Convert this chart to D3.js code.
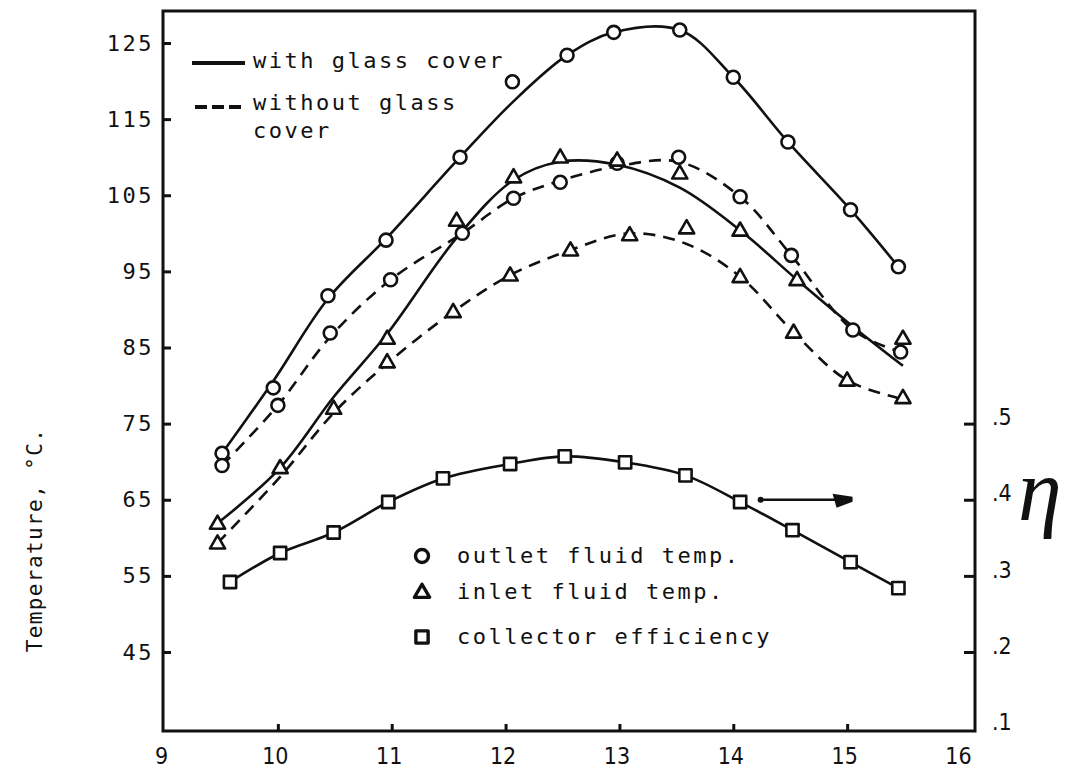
<!DOCTYPE html>
<html>
<head>
<meta charset="utf-8">
<script src="https://cdn.jsdelivr.net/npm/d3@7"></script>
<style>
  body { margin: 0; background: #fff; }
  svg { display: block; }
  .mono { font-family: "DejaVu Sans Mono", monospace; fill: #111; }
  .cond { font-family: "DejaVu Sans Condensed", "DejaVu Sans", sans-serif; fill: #111; }
</style>
</head>
<body>
<div id="wrapper"></div>
<script>
// tick labels
const xTicks = [9, 10, 11, 12, 13, 14, 15, 16]
const tempTicks = [45, 55, 65, 75, 85, 95, 105, 115, 125]
const effTicks = [0.1, 0.2, 0.3, 0.4, 0.5]

// outlet fluid temp, with glass cover (solid, circles)
const outletGlassHours = [9.51, 9.96, 10.44, 10.95, 11.60, 12.06, 12.54, 12.95, 13.53, 14.00, 14.48, 15.03, 15.45]
const outletGlassTemp  = [71.1, 79.7, 91.8, 99.1, 110.0, 119.9, 123.4, 126.4, 126.7, 120.5, 112.0, 103.1, 95.6]
const outletGlassCurve = [71.1, 80.6, 91.4, 99.3, 110.0, 117.2, 123.4, 126.4, 126.7, 120.5, 112.0, 103.1, 95.6]

// outlet fluid temp, without glass cover (dashed, circles)
const outletBareHours = [9.51, 10.00, 10.46, 10.99, 11.62, 12.07, 12.48, 12.98, 13.52, 14.06, 14.51, 15.05, 15.47]
const outletBareTemp  = [69.5, 77.4, 86.9, 93.9, 100.0, 104.6, 106.7, 109.2, 110.0, 104.8, 97.1, 87.3, 84.4]
const outletBareCurve = [69.5, 77.4, 86.4, 93.9, 100.0, 104.6, 106.9, 108.8, 109.4, 104.8, 97.1, 87.3, 84.4]

// inlet fluid temp, with glass cover (solid, triangles)
const inletGlassHours = [9.47, 10.02, 10.49, 10.96, 11.57, 12.07, 12.48, 12.98, 13.53, 14.06, 14.56, 15.03, 15.49]
const inletGlassTemp  = [61.9, 69.2, null, 86.2, 101.7, 107.4, 110.0, 109.6, 107.9, 100.4, 93.9, null, 86.2]
const inletGlassCurve = [61.9, 69.2, 78.5, 86.8, 99.4, 107.0, 109.4, 109.0, 106.0, 100.4, 93.9, 88.0, 82.6]

// inlet fluid temp, without glass cover (dashed, triangles)
const inletBareHours = [9.47, 10.02, 10.49, 10.96, 11.54, 12.04, 12.57, 13.09, 13.59, 14.06, 14.53, 15.00, 15.49]
const inletBareTemp  = [59.3, null, 77.0, 83.1, 89.7, 94.5, 97.8, 99.8, 100.7, 94.3, 87.0, 80.7, 78.4]
const inletBareCurve = [59.3, 68.0, 76.4, 82.9, 89.7, 94.5, 97.8, 100.0, 98.6, 94.3, 87.0, 80.7, 78.2]

// collector efficiency (solid, squares), right axis
const effHours = [9.58, 10.02, 10.49, 10.97, 11.45, 12.04, 12.52, 13.05, 13.58, 14.06, 14.52, 15.03, 15.45]
const effValues = [0.292, 0.330, 0.357, 0.397, 0.428, 0.447, 0.457, 0.449, 0.432, 0.397, 0.360, 0.318, 0.284]

// arrow pointing at the efficiency axis
const arrowHours = [14.24, 15.03]
const arrowEff = 0.40

function drawChart() {
    let dimensions = {
        width: 1065,
        height: 770,
        margin: { top: 11, right: 90, bottom: 39, left: 163 },
    }
    dimensions.boundedWidth = dimensions.width - dimensions.margin.left - dimensions.margin.right
    dimensions.boundedHeight = dimensions.height - dimensions.margin.top - dimensions.margin.bottom

    const wrapper = d3.select("#wrapper")
        .append("svg")
        .attr("width", dimensions.width)
        .attr("height", dimensions.height)

    const bounds = wrapper.append("g")
        .attr("transform", `translate(${dimensions.margin.left},${dimensions.margin.top})`)

    const xScale = d3.scaleLinear()
        .domain([9, 16])
        .range([1, 798])
    const yScale = d3.scaleLinear()
        .domain([45, 125])
        .range([641, 32])
    // efficiency e sits where temperature 25 + 100e sits
    const effScale = d3.scaleLinear()
        .domain([0.2, 1.0])
        .range([641, 32])

    // frame
    bounds.append("rect")
        .attr("width", dimensions.boundedWidth)
        .attr("height", dimensions.boundedHeight)
        .attr("fill", "none")
        .attr("stroke", "#111")
        .attr("stroke-width", 3)

    // left axis
    const yAxis = bounds.append("g")
        .call(d3.axisLeft(yScale).tickValues(tempTicks).tickSize(-8).tickPadding(9))
    yAxis.select(".domain").remove()
    yAxis.selectAll("line").attr("stroke", "#111").attr("stroke-width", 3)
    yAxis.selectAll("text")
        .attr("class", "mono")
        .style("font-size", "22px")
        .style("letter-spacing", "2.5px")

    // bottom axis
    const xAxis = bounds.append("g")
        .attr("transform", `translate(0,${dimensions.boundedHeight})`)
        .call(d3.axisBottom(xScale).tickValues(xTicks).tickSize(-7).tickPadding(17)
            .tickFormat(d3.format("d")))
    xAxis.select(".domain").remove()
    xAxis.selectAll("line")
        .attr("stroke", "#111").attr("stroke-width", 3)
        .style("display", d => (d === 9 || d === 16) ? "none" : null)
    xAxis.selectAll("text")
        .attr("class", "cond")
        .attr("dx", "-3")
        .style("font-size", "23px")

    // right axis (efficiency)
    const rAxis = bounds.append("g")
        .attr("transform", `translate(${dimensions.boundedWidth},0)`)
        .call(d3.axisRight(effScale).tickValues(effTicks).tickSize(-11).tickPadding(17)
            .tickFormat(d => "." + Math.round(d * 10)))
    rAxis.select(".domain").remove()
    rAxis.selectAll("line")
        .attr("stroke", "#111").attr("stroke-width", 3)
        .style("display", d => d < 0.15 ? "none" : null)
    rAxis.selectAll("text")
        .attr("class", "cond")
        .attr("dy", "0.05em")
        .style("font-size", "23px")

    // curves
    const curve = d3.curveCatmullRom.alpha(0.5)
    const series = [
        { hours: outletGlassHours, curve: outletGlassCurve, marks: outletGlassTemp, scale: yScale, shape: "circle", dashed: false },
        { hours: outletBareHours, curve: outletBareCurve, marks: outletBareTemp, scale: yScale, shape: "circle", dashed: true },
        { hours: inletGlassHours, curve: inletGlassCurve, marks: inletGlassTemp, scale: yScale, shape: "triangle", dashed: false },
        { hours: inletBareHours, curve: inletBareCurve, marks: inletBareTemp, scale: yScale, shape: "triangle", dashed: true },
        { hours: effHours, curve: effValues, marks: effValues, scale: effScale, shape: "square", dashed: false },
    ]

    const symbols = {
        circle: null,
        triangle: d3.symbol(d3.symbolTriangle, 100)(),
        square: d3.symbol(d3.symbolSquare, 150)(),
    }

    function drawMark(g, shape, x, y, strokeWidth) {
        if (shape === "circle") {
            g.append("circle")
                .attr("cx", x).attr("cy", y).attr("r", 6.5)
                .attr("fill", "#fff").attr("stroke", "#111").attr("stroke-width", strokeWidth)
        } else {
            g.append("path")
                .attr("d", symbols[shape])
                .attr("transform", `translate(${x},${y + (shape === "triangle" ? 1 : 0)})`)
                .attr("fill", "#fff").attr("stroke", "#111").attr("stroke-width", strokeWidth)
                .attr("stroke-linejoin", "round")
        }
    }

    series.forEach(s => {
        const pts = d3.zip(s.hours, s.curve)
        bounds.append("path")
            .attr("d", d3.line()
                .x(d => xScale(d[0]))
                .y(d => s.scale(d[1]))
                .curve(curve)(pts))
            .attr("fill", "none")
            .attr("stroke", "#111")
            .attr("stroke-width", 2.6)
            .attr("stroke-dasharray", s.dashed ? "12,8" : null)
    })

    series.forEach(s => {
        const g = bounds.append("g")
        s.hours.forEach((h, i) => {
            if (s.marks[i] == null) return
            drawMark(g, s.shape, xScale(h), s.scale(s.marks[i]), 2.6)
        })
    })

    // arrow towards efficiency axis
    const ay = effScale(arrowEff)
    const ax0 = xScale(arrowHours[0]), ax1 = xScale(arrowHours[1])
    bounds.append("line")
        .attr("x1", ax0).attr("x2", ax1 - 14).attr("y1", ay).attr("y2", ay)
        .attr("stroke", "#111").attr("stroke-width", 2.6)
    bounds.append("circle").attr("cx", ax0).attr("cy", ay).attr("r", 3).attr("fill", "#111")
    bounds.append("path")
        .attr("d", `M${ax1 - 18},${ay - 6} L${ax1 + 2},${ay - 3} L${ax1 + 2},${ay + 2} L${ax1 - 14},${ay + 8} Z`)
        .attr("fill", "#111")

    // top-left legend
    const leg = wrapper.append("g")
    leg.append("line").attr("x1", 192).attr("x2", 245).attr("y1", 63).attr("y2", 63)
        .attr("stroke", "#111").attr("stroke-width", 4)
    leg.append("line").attr("x1", 195).attr("x2", 245).attr("y1", 107).attr("y2", 107)
        .attr("stroke", "#111").attr("stroke-width", 4).attr("stroke-dasharray", "12,5")
    const legText = [
        { t: "with glass cover", y: 68 },
        { t: "without glass", y: 110 },
        { t: "cover", y: 138 },
    ]
    leg.selectAll("text.l1").data(legText).join("text")
        .attr("class", "mono")
        .attr("x", 253).attr("y", d => d.y)
        .style("font-size", "22px").style("letter-spacing", "2.5px")
        .text(d => d.t)

    // symbol legend
    const symLeg = [
        { shape: "circle", t: "outlet fluid temp.", y: 556 },
        { shape: "triangle", t: "inlet fluid temp.", y: 592 },
        { shape: "square", t: "collector efficiency", y: 637 },
    ]
    symLeg.forEach(d => {
        drawMark(leg, d.shape, 422, d.y, 3.4)
        leg.append("text")
            .attr("class", "mono")
            .attr("x", 457).attr("y", d.y + 7)
            .style("font-size", "22px").style("letter-spacing", "2.5px")
            .text(d.t)
    })

    // axis title
    wrapper.append("text")
        .attr("class", "mono")
        .attr("transform", "translate(42,540) rotate(-90)")
        .attr("text-anchor", "middle")
        .style("font-size", "21px").style("letter-spacing", "1.4px")
        .text("Temperature, °C.")

    // efficiency symbol
    wrapper.append("text")
        .attr("x", 1018).attr("y", 520)
        .style("font-family", "Liberation Serif, serif")
        .style("font-style", "italic")
        .style("font-size", "88px")
        .attr("fill", "#111")
        .text("η")
}

drawChart()
</script>
</body>
</html>
